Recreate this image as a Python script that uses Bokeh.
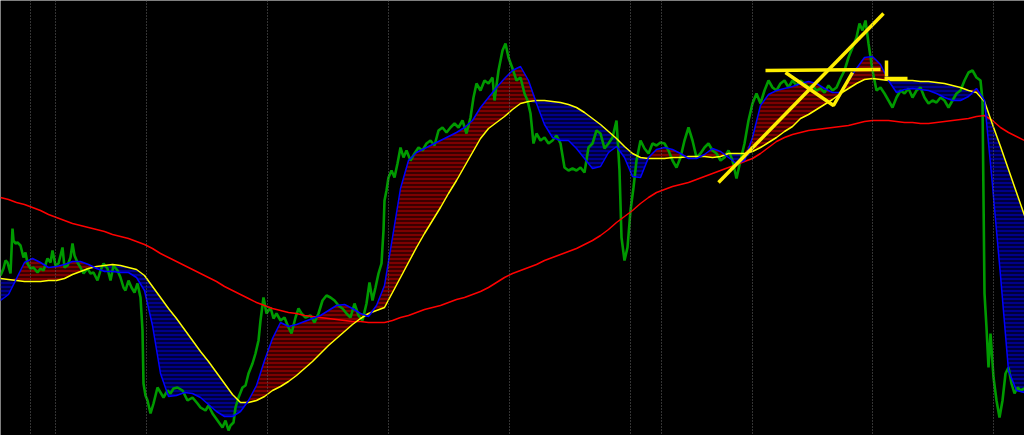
import numpy as np
from bokeh.plotting import figure
from bokeh.models import Range1d, Span
from bokeh.embed import file_html
from bokeh.resources import INLINE

# ---- price (close trace), x = bar position, y = price level (screen-down scale) ----
price_x = [0, 3, 5, 7, 10, 12, 13, 15, 17, 20, 23, 25, 27, 30, 33, 37, 40, 43, 47, 50, 52, 55, 58, 60, 62, 64,
           67, 70, 72, 74, 77, 80, 83, 87, 90, 93, 97, 100, 103, 107, 110, 113, 117, 120, 123, 125, 128, 131,
           134, 137, 140, 142, 143, 145, 147, 150, 153, 157, 160, 163, 167, 170, 173, 177, 182, 187, 192, 197,
           200, 205, 208, 212, 217, 222, 225, 228, 230, 233, 235, 238, 242, 245, 248, 252, 255, 258, 260, 263,
           266, 270, 273, 276, 280, 284, 288, 291, 295, 298, 301, 305, 310, 314, 318, 322, 326, 330, 334, 338,
           342, 346, 350, 354, 358, 362, 366, 369, 372, 375, 378, 381, 383, 384, 386, 388, 391, 394, 397, 400,
           403, 406, 410, 414, 418, 422, 426, 430, 434, 438, 442, 446, 450, 454, 458, 462, 466, 470, 473, 476,
           480, 484, 488, 492, 494, 498, 502, 505, 508, 512, 516, 520, 524, 527, 530, 533, 536, 540, 544, 548,
           552, 556, 560, 564, 568, 572, 576, 580, 584, 588, 592, 596, 600, 604, 608, 612, 616, 619, 621, 624,
           627, 630, 633, 636, 640, 644, 648, 652, 656, 660, 664, 668, 672, 676, 680, 684, 688, 692, 696, 700,
           704, 708, 712, 716, 720, 724, 728, 732, 736, 740, 744, 748, 752, 756, 760, 764, 768, 772, 776, 780,
           784, 788, 792, 796, 800, 804, 808, 812, 816, 820, 824, 828, 832, 836, 840, 844, 848, 852, 856, 859,
           862, 865, 868, 872, 876, 880, 884, 888, 892, 896, 900, 904, 908, 912, 916, 920, 924, 928, 932, 936,
           940, 944, 948, 952, 956, 960, 964, 968, 972, 976, 980, 982, 984, 986, 988, 990, 993, 996, 999, 1002,
           1005, 1008, 1011, 1014, 1017, 1020, 1024]
price_y = [275, 268, 260, 262, 273, 228, 240, 243, 242, 245, 257, 252, 263, 268, 267, 272, 268, 270, 258, 262,
           250, 265, 263, 255, 247, 267, 265, 257, 243, 255, 262, 267, 273, 268, 273, 272, 280, 270, 263, 268,
           280, 265, 270, 277, 287, 290, 280, 287, 292, 283, 297, 330, 383, 395, 400, 413, 403, 387, 392, 397,
           390, 393, 388, 387, 390, 400, 397, 403, 407, 410, 405, 413, 420, 427, 420, 430, 425, 422, 407, 397,
           387, 385, 373, 363, 353, 340, 320, 297, 313, 307, 318, 313, 320, 317, 327, 333, 317, 308, 313, 317,
           315, 322, 313, 300, 295, 297, 300, 305, 308, 313, 317, 303, 315, 320, 303, 282, 300, 287, 273, 263,
           230, 200, 190, 177, 170, 177, 163, 147, 157, 150, 160, 153, 147, 150, 143, 140, 145, 130, 127, 132,
           127, 123, 127, 120, 133, 117, 97, 83, 90, 80, 83, 77, 100, 70, 50, 43, 57, 68, 80, 77, 93, 100, 113,
           143, 133, 140, 137, 143, 140, 135, 143, 167, 170, 168, 170, 167, 172, 147, 143, 130, 133, 148, 143,
           137, 120, 170, 237, 260, 247, 210, 187, 160, 140, 148, 153, 143, 145, 142, 143, 150, 160, 167, 157,
           140, 127, 140, 157, 153, 147, 143, 150, 153, 160, 157, 150, 160, 178, 160, 143, 120, 103, 93, 103, 90,
           80, 87, 90, 83, 80, 87, 80, 85, 80, 83, 87, 85, 90, 88, 92, 85, 90, 87, 78, 70, 57, 47, 37, 23, 30,
           20, 43, 70, 90, 87, 93, 100, 107, 97, 90, 93, 88, 97, 90, 87, 97, 103, 100, 102, 97, 100, 107, 100,
           93, 90, 80, 72, 70, 77, 80, 100, 293, 327, 367, 333, 377, 400, 417, 400, 373, 367, 383, 393, 387, 390,
           388]

# ---- moving averages sampled every 8 bars ----
ma_x = list(range(0, 1025, 8))
fast_ma = [300, 294, 278, 262, 258, 262, 267, 266, 264, 261, 261, 264, 268, 271, 271, 272, 272, 277, 290, 325,
           373, 396, 395, 392, 393, 397, 404, 411, 416, 416, 411, 400, 385, 360, 338, 322, 326, 324, 321, 318,
           315, 310, 305, 304, 308, 313, 316, 305, 285, 237, 188, 160, 152, 148, 144, 140, 136, 132, 127, 120,
           107, 97, 87, 78, 70, 66, 80, 103, 124, 137, 140, 140, 148, 158, 168, 166, 152, 146, 157, 176, 177,
           157, 149, 147, 149, 153, 158, 158, 154, 148, 151, 157, 163, 160, 137, 105, 94, 90, 88, 86, 83, 81,
           83, 88, 92, 92, 80, 68, 57, 56, 64, 80, 92, 89, 88, 89, 90, 93, 97, 100, 100, 96, 88, 100, 185, 275,
           370, 390, 392]
slow_ma = [278, 279, 280, 281, 281, 281, 280, 280, 278, 274, 271, 268, 266, 265, 264, 265, 267, 269, 275, 286,
           297, 308, 318, 329, 340, 351, 361, 372, 383, 394, 402, 402, 400, 396, 390, 386, 381, 375, 368, 361,
           353, 345, 338, 331, 324, 318, 313, 310, 307, 292, 277, 262, 247, 233, 220, 207, 193, 180, 166, 152,
           138, 128, 122, 116, 109, 103, 101, 100, 100, 101, 102, 104, 107, 112, 118, 124, 131, 138, 146, 153,
           157, 158, 158, 158, 157, 157, 156, 156, 156, 157, 156, 153, 153, 153, 151, 147, 142, 137, 131, 126,
           118, 114, 109, 104, 99, 93, 88, 83, 79, 78, 79, 80, 80, 80, 80, 81, 81, 82, 83, 85, 87, 90, 92, 101,
           124, 146, 169, 192, 215]
long_ma = [197, 199, 202, 204, 207, 210, 214, 217, 220, 223, 225, 227, 229, 231, 234, 236, 238, 241, 244, 248,
           253, 257, 261, 265, 269, 273, 277, 281, 286, 290, 294, 298, 302, 305, 308, 310, 312, 313, 315, 316,
           317, 318, 319, 320, 321, 321, 322, 322, 322, 320, 317, 315, 312, 309, 307, 305, 302, 299, 297, 294,
           291, 287, 282, 277, 273, 270, 267, 264, 260, 257, 254, 251, 248, 244, 240, 235, 229, 222, 216, 210,
           203, 197, 192, 189, 186, 184, 182, 179, 176, 173, 170, 167, 164, 161, 158, 153, 147, 141, 137, 134,
           132, 130, 129, 128, 127, 126, 125, 123, 121, 120, 120, 120, 121, 122, 122, 123, 123, 122, 121, 120,
           119, 118, 116, 115, 120, 127, 132, 136, 140]

# ---- period separators ----
separator_x = [30, 55, 146, 267, 388, 509, 630, 661, 752, 872, 993]

# ---- hand-drawn trend lines ----
trend_lines = [
    ([718, 883], [182, 13]),
    ([765, 880], [70, 69]),
    ([785, 833, 852], [72, 105, 72]),
    ([886, 886], [60, 76]),
    ([884, 907], [78, 78]),
]

W, H = 1024, 435
p = figure(width=W, height=H, output_backend="svg", toolbar_location=None,
           x_range=Range1d(0, 1024), y_range=Range1d(435, 0),
           x_axis_type=None, y_axis_type=None, min_border=0)
p.background_fill_color = "black"
p.border_fill_color = "black"
p.outline_line_color = None
p.grid.visible = False

for sx in separator_x:
    p.add_layout(Span(location=sx, dimension="height", line_color="#666666",
                      line_dash="1 2", line_width=1))

mx = np.array(ma_x, dtype=float)
fast = np.array(fast_ma, dtype=float)
slow = np.array(slow_ma, dtype=float)

# fast above slow (smaller screen value) -> red band, below -> blue band
p.varea(x=mx, y1=slow, y2=np.minimum(fast, slow), fill_color="#3a0000",
        hatch_pattern="horizontal_line", hatch_color="#c00000", hatch_scale=4, hatch_weight=1)
p.varea(x=mx, y1=slow, y2=np.maximum(fast, slow), fill_color="#00003a",
        hatch_pattern="horizontal_line", hatch_color="#0000d8", hatch_scale=4, hatch_weight=1)

p.line(price_x, price_y, line_color="#009a00", line_width=2.6)

p.line(ma_x, long_ma, line_color="#ff0000", line_width=1.5)
p.line(ma_x, slow_ma, line_color="#ffff00", line_width=1.5)
p.line(ma_x, fast_ma, line_color="#0000ff", line_width=1.5)

for tx, ty in trend_lines:
    p.line(tx, ty, line_color="#ffee00", line_width=3.5)

open("out.html", "w").write(file_html(p, INLINE))
